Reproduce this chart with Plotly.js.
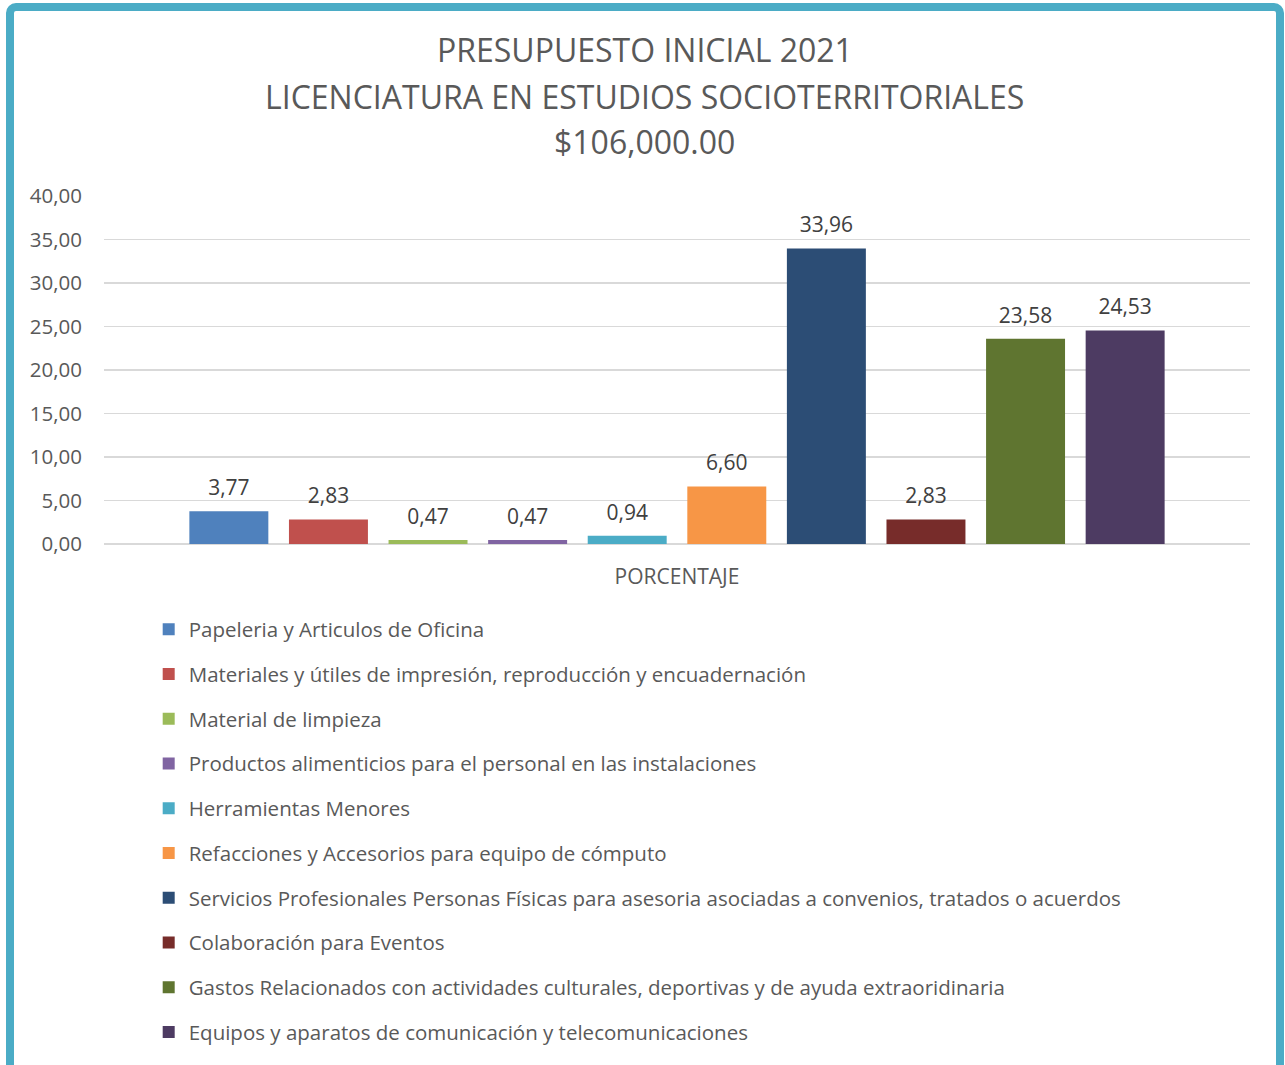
<!DOCTYPE html>
<html>
<head>
<meta charset="utf-8">
<script src="https://cdn.plot.ly/plotly-3.0.1.min.js"></script>
<style>
html,body{margin:0;padding:0;overflow:hidden;background:#fff;}
#wrap{position:relative;width:1285px;height:1065px;overflow:hidden;}
#chart{position:absolute;left:0;top:0;width:1285px;height:1065px;}
#frame{position:absolute;left:6px;top:3px;width:1278px;height:1075px;box-sizing:border-box;border:8px solid #4BACC6;border-radius:10px;pointer-events:none;}
</style>
</head>
<body>
<div id="wrap"><div id="chart"></div><div id="frame"></div></div>
<script>
const category = ["PORCENTAJE"];
const seriesNames = [
  "Papeleria y Articulos de Oficina",
  "Materiales y útiles de impresión, reproducción y encuadernación",
  "Material de limpieza",
  "Productos alimenticios para el personal en las instalaciones",
  "Herramientas Menores",
  "Refacciones y Accesorios para equipo de cómputo",
  "Servicios Profesionales Personas Físicas para asesoria asociadas a convenios, tratados o acuerdos",
  "Colaboración para Eventos",
  "Gastos Relacionados con actividades culturales, deportivas y de ayuda extraoridinaria",
  "Equipos y aparatos de comunicación y telecomunicaciones"
];
const seriesValues = [3.77, 2.83, 0.47, 0.47, 0.94, 6.60, 33.96, 2.83, 23.58, 24.53];
const seriesColors = ["#4F81BD","#C0504D","#9BBB59","#8064A2","#4BACC6","#F79646","#2C4D75","#772C2A","#5F7530","#4D3B62"];
const yTicks = [0,5,10,15,20,25,30,35,40];
const titleLines = ["PRESUPUESTO INICIAL 2021", "LICENCIATURA EN ESTUDIOS SOCIOTERRITORIALES", "$106,000.00"];

const FONT = "Open Sans, Lato, sans-serif";
const BARGAP = 0.131;

const barTraces = seriesNames.map((name, i) => ({
  type: "bar",
  name: name,
  x: category,
  y: [seriesValues[i]],
  marker: {color: seriesColors[i]},
  offsetgroup: "g" + i,
  legendgroup: "g" + i,
  hoverinfo: "name+y"
}));

// value labels: text-only scatter traces grouped like the bars
const labelTraces = seriesNames.map((name, i) => ({
  type: "scatter",
  mode: "markers+text",
  name: name,
  x: category,
  y: [seriesValues[i]],
  offsetgroup: "g" + i,
  texttemplate: "%{y:.2f}",
  textposition: "top center",
  textfont: {family: FONT, size: 21, color: "#404040"},
  marker: {size: 16, opacity: 0, color: seriesColors[i]},
  cliponaxis: false,
  showlegend: false,
  hoverinfo: "skip"
}));

const titleY = [1.42, 1.285, 1.158];
const annotations = titleLines.map((t, i) => ({
  text: t,
  xref: "paper", yref: "paper",
  x: 0.472, y: titleY[i],
  xanchor: "center", yanchor: "middle",
  showarrow: false,
  font: {family: FONT, size: 32, color: "#595959"}
}));

const layout = {
  width: 1285,
  height: 1065,
  paper_bgcolor: "#ffffff",
  plot_bgcolor: "#ffffff",
  separators: ", ",
  font: {family: FONT, color: "#595959"},
  annotations: annotations,
  margin: {l: 104, r: 35, t: 196, b: 521, autoexpand: false},
  barmode: "group",
  bargap: BARGAP,
  bargroupgap: 0.207,
  scattermode: "group",
  scattergap: BARGAP,
  xaxis: {
    type: "category",
    showgrid: false,
    showline: false,
    ticks: "",
    tickfont: {family: FONT, size: 21, color: "#595959"},
    ticklabelstandoff: 18
  },
  yaxis: {
    range: [0, 40],
    tickvals: yTicks,
    tickformat: ".2f",
    showgrid: true,
    gridcolor: "#D9D9D9",
    gridwidth: 1.5,
    zeroline: true,
    zerolinecolor: "#D9D9D9",
    zerolinewidth: 1.5,
    showline: false,
    ticks: "",
    tickfont: {family: FONT, size: 20.5, color: "#595959"},
    ticklabelstandoff: 21
  },
  showlegend: true,
  legend: {
    orientation: "v",
    x: 0.039, xanchor: "left",
    y: -0.188, yanchor: "top",
    font: {family: FONT, size: 20.5, color: "#595959"},
    tracegroupgap: 15.1,
    traceorder: "grouped",
    itemwidth: 30,
    bgcolor: "rgba(0,0,0,0)"
  }
};

Plotly.newPlot("chart", barTraces.concat(labelTraces), layout, {displayModeBar: false, staticPlot: true});
</script>
</body>
</html>
